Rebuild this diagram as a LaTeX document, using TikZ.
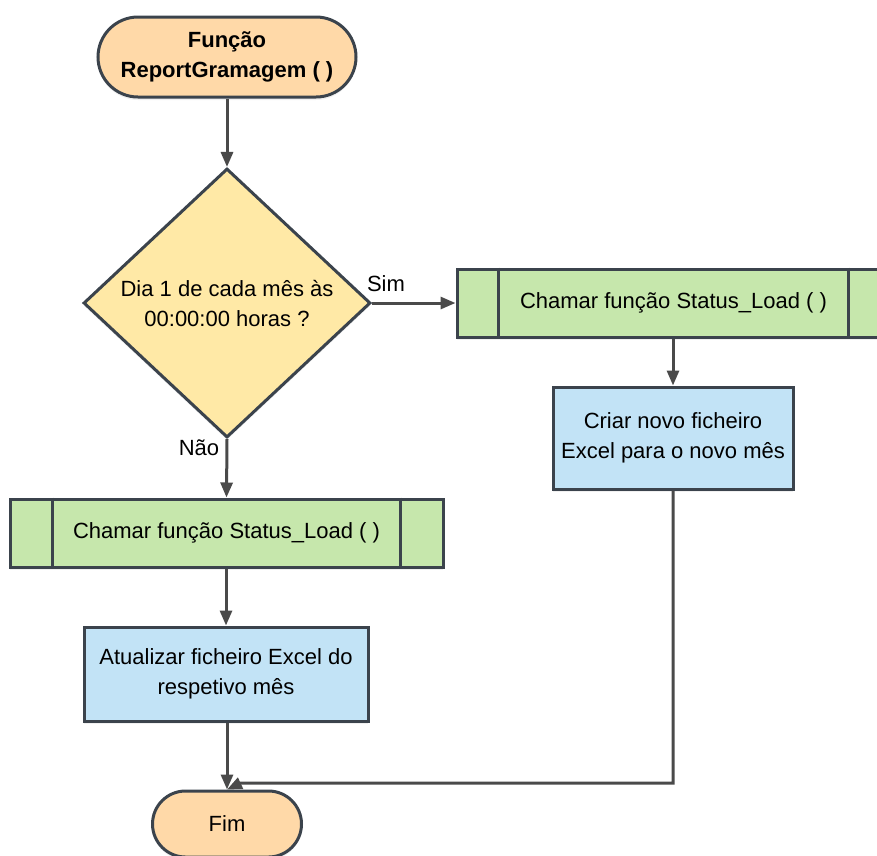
\documentclass[tikz,border=0pt]{standalone}
\usepackage{fontspec}
\setmainfont{Liberation Sans}
\usetikzlibrary{shapes.geometric,arrows.meta,shadows}

\definecolor{edgecol}{HTML}{3B434C}
\definecolor{linecol}{HTML}{4A4A4A}
\definecolor{termfill}{HTML}{FFD9A8}
\definecolor{decfill}{HTML}{FFE9A6}
\definecolor{subfill}{HTML}{C6E7AC}
\definecolor{procfill}{HTML}{C2E3F6}

\tikzset{
  txt/.style={font=\fontsize{22}{30}\selectfont, align=center},
  shape base/.style={txt, draw=edgecol, line width=3pt, inner sep=0pt,
    drop shadow={opacity=0.12, shadow xshift=0pt, shadow yshift=-3pt}},
  terminal/.style={shape base, fill=termfill, rectangle},
  decision/.style={shape base, fill=decfill, diamond},
  subproc/.style={shape base, fill=subfill, rectangle,
    minimum width=433pt, minimum height=68pt},
  process/.style={shape base, fill=procfill, rectangle},
  flow/.style={draw=linecol, line width=3pt,
    -{Triangle[length=15pt,width=12pt]}},
  plainline/.style={draw=edgecol, line width=3pt},
}

\begin{document}
\begin{tikzpicture}[x=1pt,y=-1pt]
\useasboundingbox (0,0) rectangle (877,855);
\clip (0,0) rectangle (877,855);

% start terminal
\node[terminal, minimum width=258pt, minimum height=80pt, rounded corners=40pt,
      font=\fontsize{22}{30}\selectfont\bfseries]
  (start) at (227,57) {Função\\ReportGramagem ( )};

% decision
\node[decision, minimum width=287pt, minimum height=269pt]
  (dec) at (227,303) {Dia 1 de cada mês às\\00:00:00 horas ?};

% predefined process boxes
\node[subproc] (spR) at (673.5,303) {Chamar função Status\_Load ( )};
\draw[plainline] ([xshift=43pt]spR.north west) -- ([xshift=43pt]spR.south west);
\draw[plainline] ([xshift=-43pt]spR.north east) -- ([xshift=-43pt]spR.south east);

\node[subproc] (spL) at (226.5,533) {Chamar função Status\_Load ( )};
\draw[plainline] ([xshift=44pt]spL.north west) -- ([xshift=44pt]spL.south west);
\draw[plainline] ([xshift=-44pt]spL.north east) -- ([xshift=-44pt]spL.south east);

% process boxes
\node[process, minimum width=240pt, minimum height=102pt]
  (rb) at (673,438) {Criar novo ficheiro\\Excel para o novo mês};
\node[process, minimum width=284pt, minimum height=94pt]
  (lb) at (226,674) {Atualizar ficheiro Excel do\\respetivo mês};

% end terminal
\node[terminal, minimum width=149pt, minimum height=66pt, rounded corners=33pt]
  (fim) at (227,824) {Fim};

% branch labels
\node[txt] (sim) at (386,284) {Sim};
\node[txt] (nao) at (199,448) {Não};

% connectors
\coordinate (turn) at (673,783);
\coordinate (bend) at (241,783);
\draw[flow] (start) -- (dec);
\draw[flow] (dec.east) -- (dec.east -| spR.west);
\draw[flow] (dec.south) -- (spL.north);
\draw[flow] (spR.south -| rb.north) -- (rb.north);
\draw[flow] (spL.south -| lb.north) -- (lb.north);
\draw[flow] (lb.south -| fim.north) -- (fim.north);
\draw[flow] (rb.south) -- (turn) -- (bend) -- (fim.north);
\end{tikzpicture}
\end{document}
